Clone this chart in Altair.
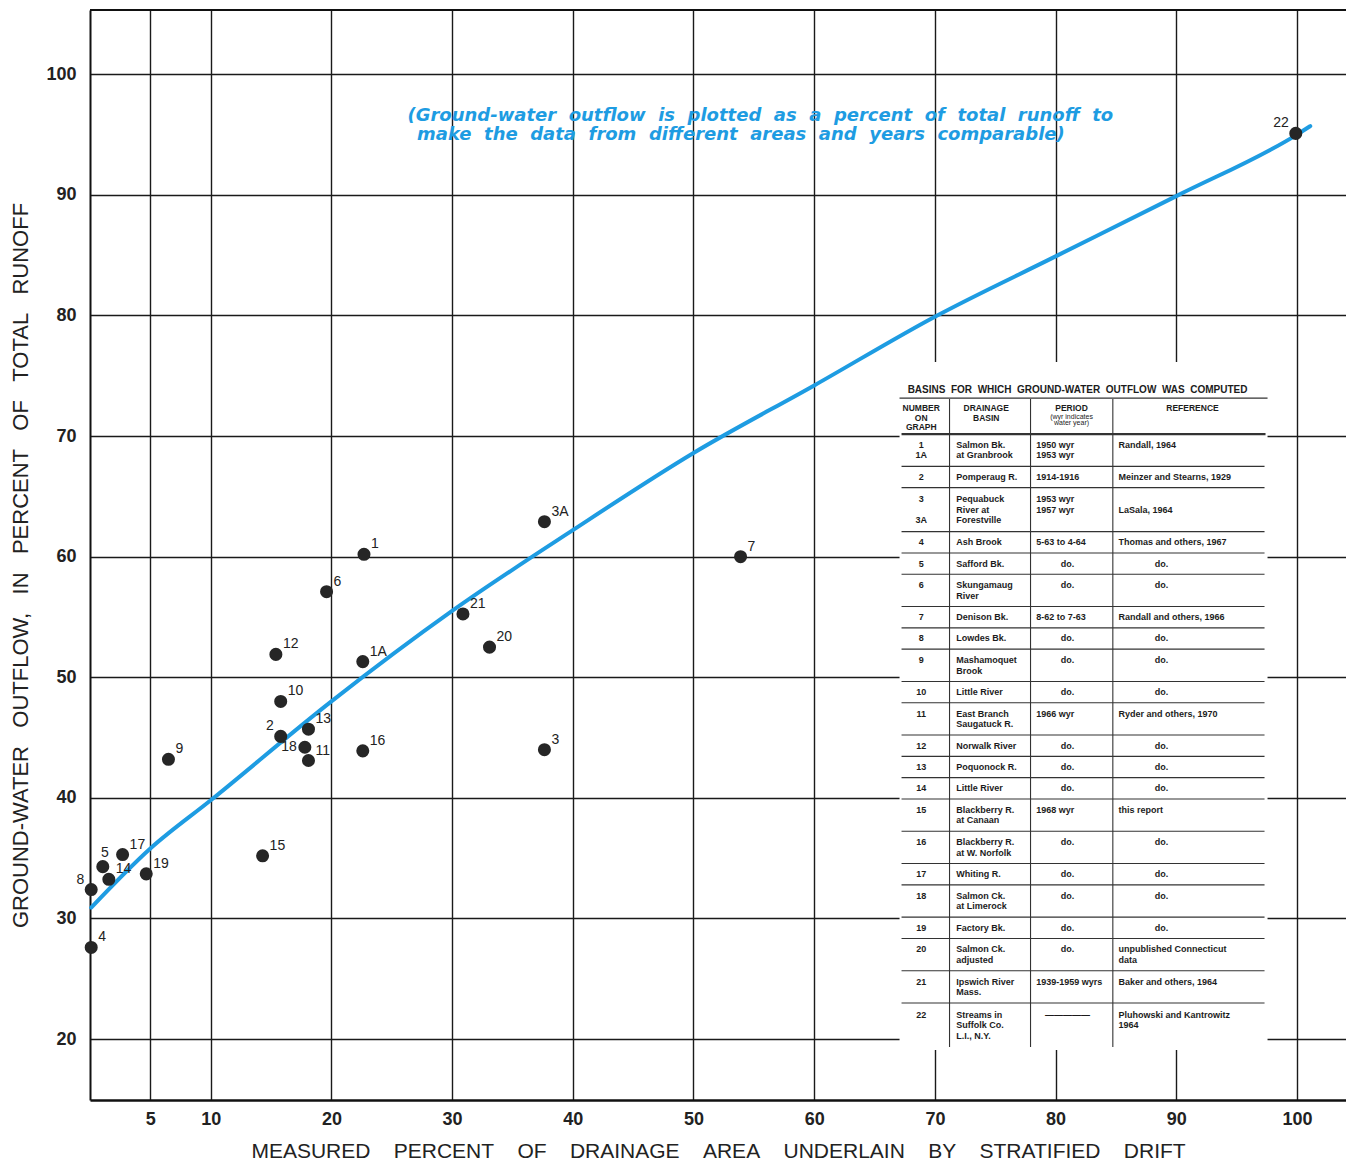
import altair as alt
import pandas as pd

# ---------------- data ----------------
point_ids = ["1", "1A", "2", "3", "3A", "4", "5", "6", "7", "8", "9", "10",
             "11", "12", "13", "14", "15", "16", "17", "18", "19", "20", "21", "22"]
drift_pct = [22.7, 22.6, 15.8, 37.65, 37.65, 0.1, 1.06, 19.6, 53.9, 0.1, 6.5, 15.8,
             18.1, 15.4, 18.1, 1.56, 14.3, 22.6, 2.7, 17.8, 4.66, 33.1, 30.9, 99.9]
outflow_pct = [60.2, 51.3, 45.1, 44.0, 62.9, 27.6, 34.3, 57.1, 60.0, 32.4, 43.2, 48.0,
               43.1, 51.9, 45.7, 33.25, 35.2, 43.9, 35.3, 44.2, 33.7, 52.5, 55.25, 95.1]

curve_drift = [0.1, 5, 10, 20, 30, 40, 50, 60, 70, 80, 90, 100, 101.1]
curve_outflow = [30.9, 35.8, 39.8, 48.0, 55.5, 62.2, 68.6, 74.2, 79.9, 84.9, 89.9, 95.0, 95.7]

x_ticks = [5, 10, 20, 30, 40, 50, 60, 70, 80, 90, 100]
y_ticks = [20, 30, 40, 50, 60, 70, 80, 90, 100]

x_title = "MEASURED PERCENT OF DRAINAGE AREA UNDERLAIN BY STRATIFIED DRIFT"
y_title = "GROUND-WATER OUTFLOW, IN PERCENT OF TOTAL RUNOFF"

note_lines = ["(Ground-water outflow is plotted as a percent of total runoff to",
              "make the data from different areas and years comparable)"]

table_title = "BASINS FOR WHICH GROUND-WATER OUTFLOW WAS COMPUTED"
table_headers = ["NUMBER\nON\nGRAPH", "DRAINAGE\nBASIN", "PERIOD", "REFERENCE"]
period_note = "(wyr indicates\nwater year)"
table_numbers = ["1\n1A", "2", "3\n\n3A", "4", "5", "6", "7", "8", "9", "10", "11",
                 "12", "13", "14", "15", "16", "17", "18", "19", "20", "21", "22"]
table_basins = ["Salmon Bk.\nat Granbrook", "Pomperaug R.", "Pequabuck\nRiver at\nForestville",
                "Ash Brook", "Safford Bk.", "Skungamaug\nRiver", "Denison Bk.", "Lowdes Bk.",
                "Mashamoquet\nBrook", "Little River", "East Branch\nSaugatuck R.",
                "Norwalk River", "Poquonock R.", "Little River", "Blackberry R.\nat Canaan",
                "Blackberry R.\nat W. Norfolk", "Whiting R.", "Salmon Ck.\nat Limerock",
                "Factory Bk.", "Salmon Ck.\nadjusted", "Ipswich River\nMass.",
                "Streams in\nSuffolk Co.\nL.I., N.Y."]
table_periods = ["1950 wyr\n1953 wyr", "1914-1916", "1953 wyr\n1957 wyr", "5-63 to 4-64",
                 "do.", "do.", "8-62 to 7-63", "do.", "do.", "do.", "1966 wyr", "do.", "do.",
                 "do.", "1968 wyr", "do.", "do.", "do.", "do.", "do.", "1939-1959 wyrs",
                 "\u2014\u2014\u2014\u2014\u2014"]
table_refs = ["Randall, 1964", "Meinzer and Stearns, 1929", "\nLaSala, 1964",
              "Thomas and others, 1967", "do.", "do.", "Randall and others, 1966", "do.",
              "do.", "do.", "Ryder and others, 1970", "do.", "do.", "do.", "this report",
              "do.", "do.", "do.", "do.", "unpublished Connecticut\ndata",
              "Baker and others, 1964", "Pluhowski and Kantrowitz\n1964"]

# label placement around each point (style, not data)
label_side = {"22": "ul", "2": "ul", "8": "ul", "18": "l", "5": "u"}

# ---------------- layout ----------------
W, H = 1256, 1090
XMIN, XMAX = 0.0, 104.06
YMIN, YMAX = 14.95, 105.33
PX_X = W / (XMAX - XMIN)
PX_Y = H / (YMAX - YMIN)

BLUE = "#1e9ce2"
INK = "#222222"
NB = "\u00a0"


def spaced(s, n):
    return (NB * n).join(s.split(" "))


xscale = alt.Scale(domain=[XMIN, XMAX], nice=False, zero=False)
yscale = alt.Scale(domain=[YMIN, YMAX], nice=False, zero=False)

TICK_FONT = "Liberation Sans"
xaxis = alt.Axis(values=x_ticks, grid=True, gridColor="#1a1a1a", gridWidth=1.4,
                 domain=True, domainColor="#111111", domainWidth=2.5, ticks=False,
                 labelFont=TICK_FONT, labelFontWeight="bold", labelFontSize=18,
                 labelColor=INK, labelPadding=10, labelFlush=False, labelOverlap=False,
                 title=spaced(x_title, 4), titleFont="Liberation Sans",
                 titleFontSize=21, titleFontWeight="normal", titleColor=INK,
                 titleX=W / 2, titleY=51, titleBaseline="middle", titleAlign="center")
yaxis = alt.Axis(values=y_ticks, grid=True, gridColor="#1a1a1a", gridWidth=1.4,
                 domain=True, domainColor="#111111", domainWidth=2, ticks=False,
                 labelFont=TICK_FONT, labelFontWeight="bold", labelFontSize=18,
                 labelColor=INK, labelPadding=14, labelFlush=False, labelOverlap=False,
                 title=spaced(y_title, 3), titleFont="Liberation Sans",
                 titleFontSize=22, titleFontWeight="normal", titleColor=INK,
                 titleX=-70, titleY=555, titleBaseline="middle", titleAlign="center",
                 titleAngle=270)


def xenc(f):
    return alt.X(f"{f}:Q", scale=xscale, axis=xaxis)


def yenc(f):
    return alt.Y(f"{f}:Q", scale=yscale, axis=yaxis)


# ---------------- table geometry (px offsets inside the inset) ----------------
TBL_X0, TBL_Y0 = 67.07, 76.14       # data position of the inset's top-left corner
TBL_W, TBL_H = 368, 688
COL_SEPS = [50, 131, 213.3]
NUM_CX, BASIN_LX, PER_LX, PER_CX, REF_LX, REF_CX = 21.7, 56.7, 136.7, 168, 219, 262
ROW_TOP0 = 72
ROW_H = {1: 21.3, 2: 32.3, 3: 44.0}
LINE_PX = 10.5


def tx(px):
    return TBL_X0 + px / PX_X


def ty(py):
    return TBL_Y0 - py / PX_Y


texts = []   # x, y, text, kind
segs = []    # x, x2, y, y2, w

texts.append(dict(x=tx(178), y=ty(28), text=spaced(table_title, 2), kind="title"))
for txt, cx in zip(table_headers, [NUM_CX, 86.7, 172, 293]):
    for j, ln in enumerate(txt.split("\n")):
        texts.append(dict(x=tx(cx), y=ty(46 + 9.5 * j), text=ln, kind="head"))
for j, ln in enumerate(period_note.split("\n")):
    texts.append(dict(x=tx(172), y=ty(54.5 + 6.5 * j), text=ln, kind="small"))

segs.append(dict(x=tx(0), x2=tx(TBL_W), y=ty(36), y2=ty(36), w=1.3))
segs.append(dict(x=tx(2), x2=tx(TBL_W - 2), y=ty(ROW_TOP0), y2=ty(ROW_TOP0), w=2.2))
for c in COL_SEPS:
    segs.append(dict(x=tx(c), x2=tx(c), y=ty(37), y2=ty(TBL_H - 3), w=1.1))

top = ROW_TOP0
n_rows = len(table_numbers)
for i in range(n_rows):
    cells = [table_numbers[i], table_basins[i], table_periods[i], table_refs[i]]
    n = max(len(c.split("\n")) for c in cells)
    h = ROW_H[n]
    first = top + h / 2 - (n - 1) * LINE_PX / 2
    for col, cell in enumerate(cells):
        for j, ln in enumerate(cell.split("\n")):
            if not ln:
                continue
            yy = ty(first + j * LINE_PX)
            centered = ln == "do." or ln.startswith("\u2014")
            if col == 0:
                texts.append(dict(x=tx(NUM_CX), y=yy, text=ln, kind="center"))
            elif col == 1:
                texts.append(dict(x=tx(BASIN_LX), y=yy, text=ln, kind="left"))
            elif col == 2:
                texts.append(dict(x=tx(PER_CX if centered else PER_LX), y=yy, text=ln,
                                  kind="center" if centered else "left"))
            else:
                texts.append(dict(x=tx(REF_CX if centered else REF_LX), y=yy, text=ln,
                                  kind="center" if centered else "left"))
    top += h
    if i < n_rows - 1:
        segs.append(dict(x=tx(2), x2=tx(TBL_W - 3), y=ty(top), y2=ty(top), w=1.1))

texts_df = pd.DataFrame(texts)
segs_df = pd.DataFrame(segs)
box_df = pd.DataFrame([dict(x=tx(0), x2=tx(TBL_W), y=ty(0), y2=ty(TBL_H))])

# ---------------- chart layers ----------------
pts_df = pd.DataFrame({"id": point_ids, "drift": drift_pct, "outflow": outflow_pct})
pts_df["side"] = [label_side.get(p, "ur") for p in point_ids]
curve_df = pd.DataFrame({"drift": curve_drift, "outflow": curve_outflow})
note_df = pd.DataFrame({"text": [spaced(s, 2) for s in note_lines],
                        "x": [26.3, 27.1], "y": [96.55, 94.97]})
border_df = pd.DataFrame({"y": [YMAX]})

border = alt.Chart(border_df).mark_rule(color="#111111", strokeWidth=2).encode(y=yenc("y"))

box = alt.Chart(box_df).mark_rect(fill="white", stroke=None).encode(
    x=xenc("x"), x2="x2", y=yenc("y"), y2="y2")

rules = alt.Chart(segs_df).mark_rule(color="#333333").encode(
    x=xenc("x"), x2="x2", y=yenc("y"), y2="y2",
    strokeWidth=alt.StrokeWidth("w:Q", scale=None))


def tbl_text(kind, **kw):
    return alt.Chart(texts_df).transform_filter(alt.datum.kind == kind).mark_text(
        baseline="middle", color="#1c1c1c", **kw).encode(
        x=xenc("x"), y=yenc("y"), text="text:N")


t_title = tbl_text("title", align="center", font="Liberation Sans", fontSize=10,
                   fontWeight="bold")
t_head = tbl_text("head", align="center", font="Liberation Sans", fontSize=8.5, fontWeight="bold")
t_small = tbl_text("small", align="center", font="Liberation Sans", fontSize=7)
t_left = tbl_text("left", align="left", font="Liberation Sans", fontSize=9, fontWeight="bold")
t_center = tbl_text("center", align="center", font="Liberation Sans", fontSize=9, fontWeight="bold")

curve = alt.Chart(curve_df).mark_line(color=BLUE, strokeWidth=4, interpolate="monotone",
                                      strokeCap="round").encode(
    x=xenc("drift"), y=yenc("outflow"))

points = alt.Chart(pts_df).mark_circle(size=170, color="#262626", opacity=1).encode(
    x=xenc("drift"), y=yenc("outflow"))

side_style = {
    "ur": dict(align="left", dx=7, dy=-10),
    "ul": dict(align="right", dx=-7, dy=-10),
    "l": dict(align="right", dx=-8, dy=0),
    "u": dict(align="center", dx=2, dy=-14),
}
label_layers = [
    alt.Chart(pts_df).transform_filter(alt.datum.side == s).mark_text(
        baseline="middle", font="Liberation Sans", fontSize=14, color=INK, **st).encode(
        x=xenc("drift"), y=yenc("outflow"), text="id:N")
    for s, st in side_style.items()
]

note = alt.Chart(note_df).mark_text(
    align="left", baseline="middle", font="DejaVu Sans", fontSize=18,
    fontWeight="bold", fontStyle="italic", color=BLUE).encode(
    x=xenc("x"), y=yenc("y"), text="text:N")

chart = alt.layer(
    border, box, rules, t_title, t_head, t_small, t_left, t_center,
    curve, points, *label_layers, note
).properties(
    width=W, height=H,
    padding={"left": 82, "top": 2, "right": 0, "bottom": 64},
    autosize=alt.AutoSizeParams(type="none"),
    background="white",
).configure_view(strokeWidth=0)

chart.save("out.html", embed_options={"renderer": "svg", "actions": False})
